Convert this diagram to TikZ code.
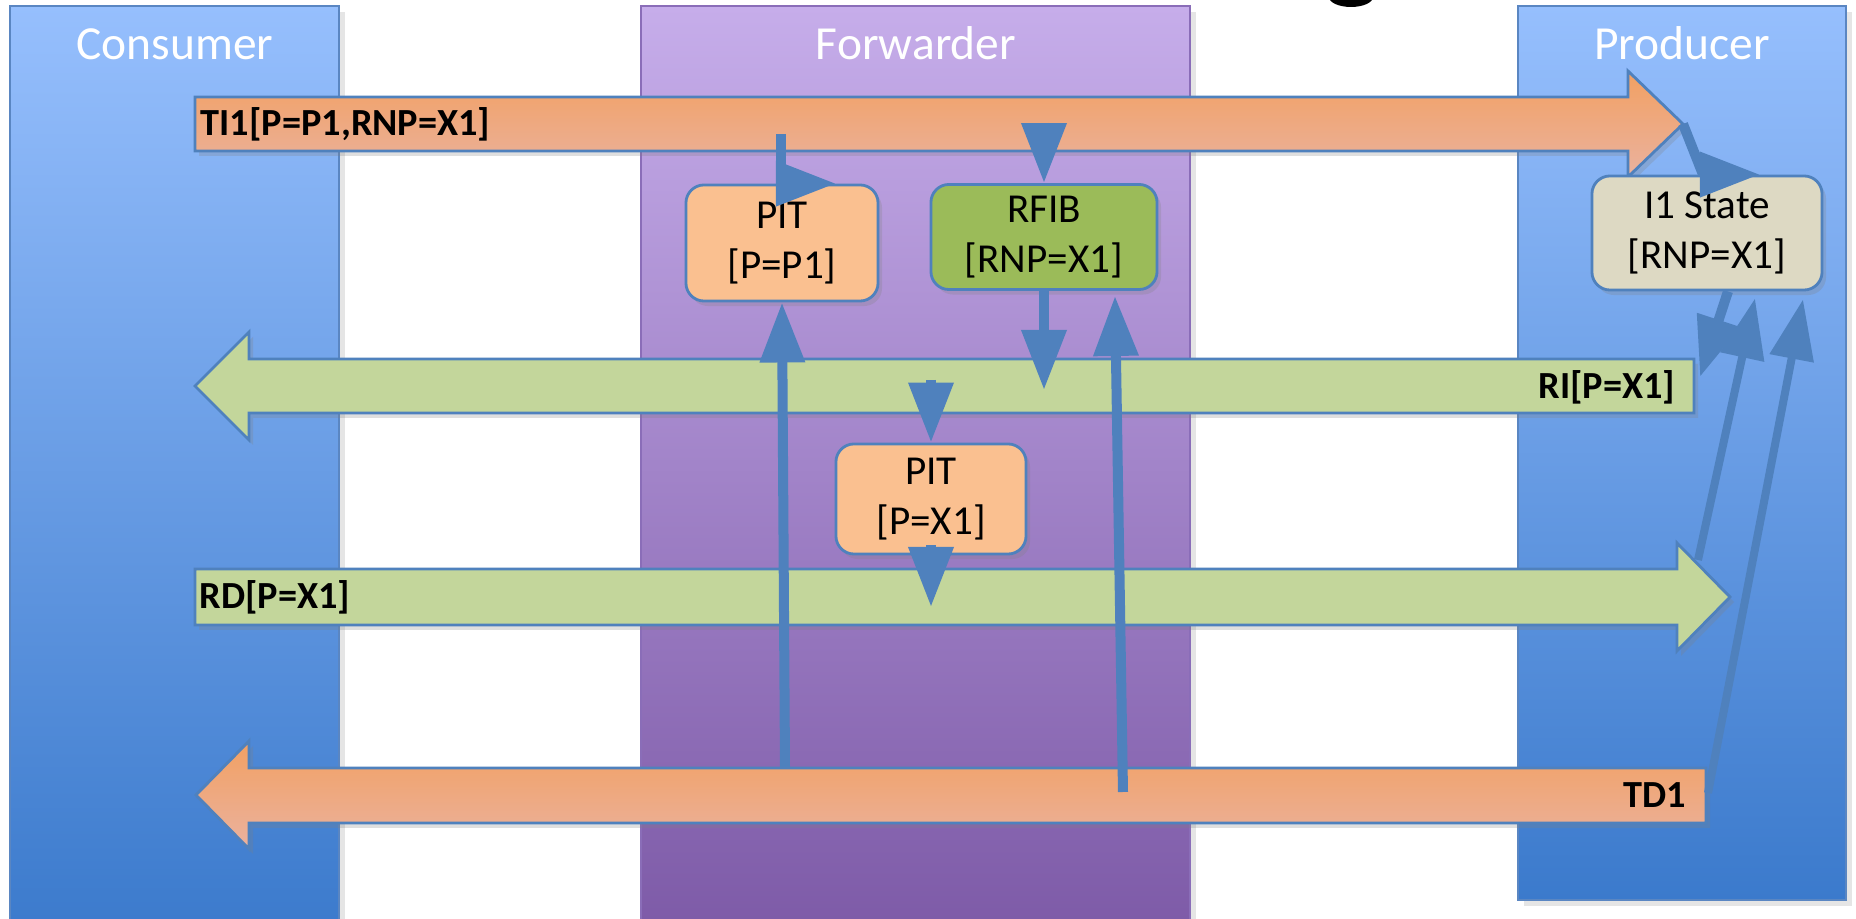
\documentclass[tikz,border=0pt]{standalone}
\usepackage{fontspec}
\setmainfont{Carlito}
\usetikzlibrary{arrows.meta,calc,shadows}
\definecolor{bluetop}{HTML}{96BFFD}
\definecolor{bluebot}{HTML}{3B7ACC}
\definecolor{violettop}{HTML}{C6ADEA}
\definecolor{violetbot}{HTML}{7D5AA7}
\definecolor{orangetop}{HTML}{F2A062}
\definecolor{orangebot}{HTML}{EAB29F}
\definecolor{greenbar}{HTML}{C3D69B}
\definecolor{pitfill}{HTML}{FAC090}
\definecolor{rfibfill}{HTML}{9BBB59}
\definecolor{statefill}{HTML}{DDD9C3}
\definecolor{edge}{HTML}{4F81BD}
\definecolor{laneedge}{HTML}{5A86C2}
\definecolor{violetedge}{HTML}{8A6DB8}

\begin{document}
\begin{tikzpicture}[x=0.01cm, y=-0.01cm,
    lane/.style={line width=0.6pt, drop shadow={shadow xshift=0.6mm, shadow yshift=-0.6mm, opacity=0.2}},
    msgbar/.style={draw=edge, line width=0.8pt, drop shadow={shadow xshift=0.4mm, shadow yshift=-0.5mm, opacity=0.25}},
    lbl/.style={font=\bfseries\fontsize{10.9}{12}\selectfont, inner sep=0pt},
    lanetitle/.style={text=white, anchor=base, font=\fontsize{13.5}{16}\selectfont},
    tablebox/.style={draw=edge, line width=0.8pt, rounded corners=1.8mm, align=center, inner sep=0pt,
        font=\fontsize{11.7}{14.2}\selectfont, drop shadow={shadow xshift=0.4mm, shadow yshift=-0.5mm, opacity=0.25}},
    conn/.style={draw=edge, line width=1mm, -{Triangle[length=6mm,width=4.3mm]}}]
\useasboundingbox (0,0) rectangle (1856,919);
\fill[white] (0,0) rectangle (1856,919);
\fill[black] (1351,-3) ellipse (22 and 10);

\path[lane, draw=laneedge, top color=bluetop, bottom color=bluebot] (10,6) rectangle (339,935);
\path[lane, draw=violetedge, top color=violettop, bottom color=violetbot] (641,6) rectangle (1190,935);
\path[lane, draw=laneedge, top color=bluetop, bottom color=bluebot] (1518,6) rectangle (1846,900);
\node[lanetitle] (consumer) at (175,60) {Consumer};
\node[lanetitle] (forwarder) at (916,60) {Forwarder};
\node[lanetitle] (producer) at (1682,60) {Producer};

\path[msgbar, top color=orangetop, bottom color=orangebot] (195,97) -- (1628,97) -- (1628,71) -- (1683,124) -- (1628,177) -- (1628,151) -- (195,151) -- cycle;
\path[msgbar, fill=greenbar] (1694,359) -- (249,359) -- (249,332) -- (195,386) -- (249,440) -- (249,413) -- (1694,413) -- cycle;
\path[msgbar, fill=greenbar] (195,569) -- (1677,569) -- (1677,543) -- (1730,597) -- (1677,651) -- (1677,625) -- (195,625) -- cycle;
\path[msgbar, top color=orangetop, bottom color=orangebot] (1706,768) -- (249,768) -- (249,741) -- (196,795) -- (249,849) -- (249,823) -- (1706,823) -- cycle;
\node[lbl, anchor=west] (ti1) at (200,124) {TI1[P=P1,RNP=X1]};
\node[lbl, anchor=east] (ri) at (1676,387) {RI[P=X1]};
\node[lbl, anchor=west] (rd) at (199,597) {RD[P=X1]};
\node[lbl, anchor=east] (td1) at (1687,795) {TD1};

\coordinate (ti1-tip) at (1683,124);
\coordinate (ti1-pit) at (781,134);
\coordinate (ti1-rfib) at (1044,123);
\coordinate (ri-rfib) at (1044,390);
\coordinate (ri-pit) at (931,380);
\coordinate (ri-end) at (1700,377);
\coordinate (rd-pit) at (931,607);
\coordinate (rd-tip) at (1698,560);
\coordinate (td1-pit) at (785,767);
\coordinate (td1-rfib) at (1123,792);
\coordinate (td1-end) at (1708,793);

\node[tablebox, fill=pitfill, minimum width=1.92cm, minimum height=1.16cm] (pit1) at (782,243) {PIT\\{[P=P1]}};
\node[tablebox, fill=rfibfill, minimum width=2.26cm, minimum height=1.05cm] (rfib) at (1044,237) {RFIB\\{[RNP=X1]}};
\node[tablebox, fill=pitfill, minimum width=1.90cm, minimum height=1.10cm] (pit2) at (931,499) {PIT\\{[P=X1]}};
\node[tablebox, fill=statefill, minimum width=2.30cm, minimum height=1.14cm] (state) at (1707,233) {I1 State\\{[RNP=X1]}};

\draw[conn] (ti1-pit) |- ($(pit1.north)+(54,0)$);
\draw[conn] (ti1-rfib) -- (rfib.north);
\draw[conn] (rfib.south) -- (ri-rfib);
\draw[conn] (ri-pit) -- (pit2.north);
\draw[conn] ($(pit2.south)+(0,-10)$) -- (rd-pit);
\draw[conn] (td1-pit) -- (pit1.south);
\draw[conn] (td1-rfib) -- ($(rfib.south)+(71,5)$);
\draw[conn] (ti1-tip) -- ($(state.north)+(-4,0)$) -- ($(state.north)+(53,0)$);
\draw[conn] ($(state.south)+(21,0)$) -- (ri-end);
\draw[conn, line width=0.8mm] (rd-tip) -- ($(state.south)+(48,7)$);
\draw[conn, line width=0.8mm] (td1-end) -- ($(state.south)+(96,8)$);
\end{tikzpicture}
\end{document}
